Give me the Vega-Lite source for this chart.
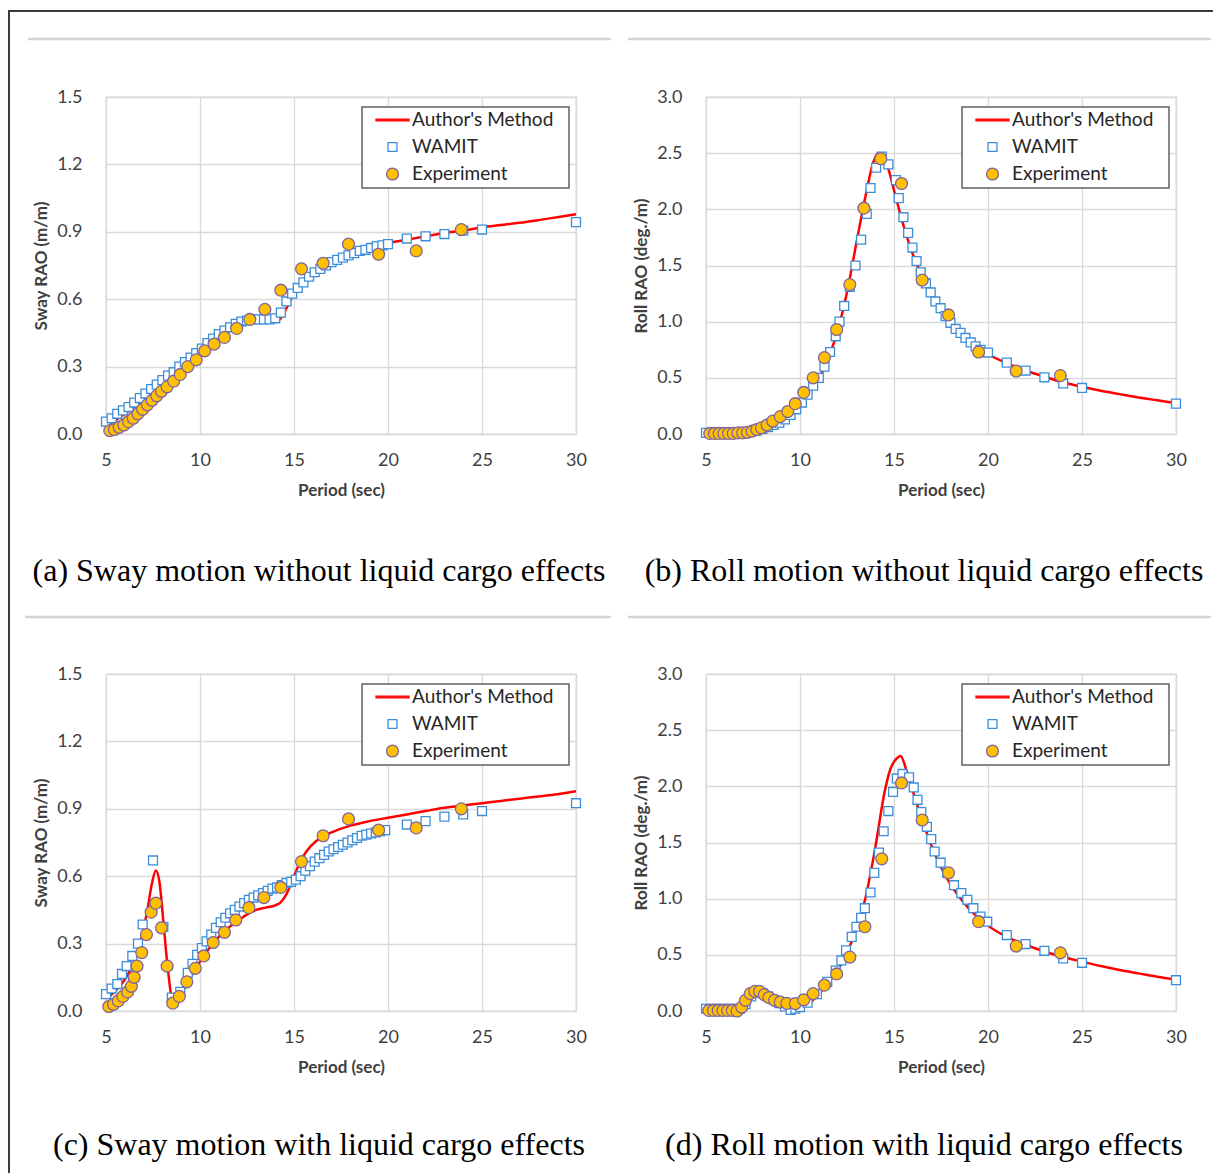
{
  "$schema": "https://vega.github.io/schema/vega-lite/v6.json",
  "background": "white",
  "autosize": {"type": "pad"},
  "padding": {"left": 7, "top": 8, "right": 0, "bottom": 0},
  "config": {
    "view": {"stroke": "#d9d9d9", "strokeWidth": 1.3},
    "axis": {
      "domain": false, "ticks": false, "grid": true, "labelFlush": false,
      "gridColor": "#d9d9d9", "gridWidth": 1.3,
      "labelFont": "Lato", "labelFontSize": 18, "labelColor": "#404040",
      "titleFont": "Lato", "titleFontSize": 17, "titleFontWeight": "bold", "titleColor": "#404040"
    },
    "axisX": {"labelPadding": 17, "titlePadding": 13},
    "axisY": {"labelPadding": 24, "titlePadding": 6},
    "legend": {
      "orient": "none", "legendX": 256, "legendY": 10,
      "titleOrient": "right", "titlePadding": 12, "titleFont": "Lato", "titleFontSize": 19,
      "strokeColor": "#606060", "strokeWidth": 1.5, "fillColor": "white", "padding": 4,
      "labelFont": "Lato", "labelFontSize": 19, "labelColor": "#262626",
      "symbolSize": 1089, "symbolStrokeWidth": 1.3, "clipHeight": 18,
      "rowPadding": 8, "symbolOffset": 9, "labelOffset": 2
    },
    "title": {"orient": "bottom", "anchor": "middle", "frame": "group", "font": "Liberation Serif", "fontSize": 32, "fontWeight": "normal", "color": "#000000"}
  },
  "datasets": {
    "a": [
      {"series": "Author's Method", "T": 5.1, "v": 0.04}, {"series": "Author's Method", "T": 5.5, "v": 0.06}, {"series": "Author's Method", "T": 6.0, "v": 0.09}, {"series": "Author's Method", "T": 6.5, "v": 0.12}, {"series": "Author's Method", "T": 7.0, "v": 0.155}, {"series": "Author's Method", "T": 7.5, "v": 0.19}, {"series": "Author's Method", "T": 8.0, "v": 0.225}, {"series": "Author's Method", "T": 8.5, "v": 0.26}, {"series": "Author's Method", "T": 9.0, "v": 0.295}, {"series": "Author's Method", "T": 9.5, "v": 0.33}, {"series": "Author's Method", "T": 10.0, "v": 0.365}, {"series": "Author's Method", "T": 10.5, "v": 0.4}, {"series": "Author's Method", "T": 11.0, "v": 0.435}, {"series": "Author's Method", "T": 11.5, "v": 0.46}, {"series": "Author's Method", "T": 12.0, "v": 0.48}, {"series": "Author's Method", "T": 12.5, "v": 0.495}, {"series": "Author's Method", "T": 13.0, "v": 0.5}, {"series": "Author's Method", "T": 13.5, "v": 0.5}, {"series": "Author's Method", "T": 14.0, "v": 0.5}, {"series": "Author's Method", "T": 14.3, "v": 0.515}, {"series": "Author's Method", "T": 14.6, "v": 0.56}, {"series": "Author's Method", "T": 15.0, "v": 0.625}, {"series": "Author's Method", "T": 15.5, "v": 0.675}, {"series": "Author's Method", "T": 16.0, "v": 0.715}, {"series": "Author's Method", "T": 16.5, "v": 0.745}, {"series": "Author's Method", "T": 17.0, "v": 0.765}, {"series": "Author's Method", "T": 17.5, "v": 0.785}, {"series": "Author's Method", "T": 18.0, "v": 0.8}, {"series": "Author's Method", "T": 18.5, "v": 0.815}, {"series": "Author's Method", "T": 19.0, "v": 0.83}, {"series": "Author's Method", "T": 19.5, "v": 0.84}, {"series": "Author's Method", "T": 20.0, "v": 0.85}, {"series": "Author's Method", "T": 21.0, "v": 0.865}, {"series": "Author's Method", "T": 22.0, "v": 0.88}, {"series": "Author's Method", "T": 23.0, "v": 0.895}, {"series": "Author's Method", "T": 24.0, "v": 0.905}, {"series": "Author's Method", "T": 25.0, "v": 0.92}, {"series": "Author's Method", "T": 26.0, "v": 0.93}, {"series": "Author's Method", "T": 27.0, "v": 0.94}, {"series": "Author's Method", "T": 28.0, "v": 0.952}, {"series": "Author's Method", "T": 29.0, "v": 0.965}, {"series": "Author's Method", "T": 30.0, "v": 0.978},
      {"series": "WAMIT", "T": 5.0, "v": 0.055}, {"series": "WAMIT", "T": 5.3, "v": 0.07}, {"series": "WAMIT", "T": 5.6, "v": 0.09}, {"series": "WAMIT", "T": 5.9, "v": 0.105}, {"series": "WAMIT", "T": 6.2, "v": 0.12}, {"series": "WAMIT", "T": 6.5, "v": 0.14}, {"series": "WAMIT", "T": 6.8, "v": 0.16}, {"series": "WAMIT", "T": 7.1, "v": 0.18}, {"series": "WAMIT", "T": 7.4, "v": 0.2}, {"series": "WAMIT", "T": 7.7, "v": 0.22}, {"series": "WAMIT", "T": 8.0, "v": 0.24}, {"series": "WAMIT", "T": 8.3, "v": 0.26}, {"series": "WAMIT", "T": 8.6, "v": 0.275}, {"series": "WAMIT", "T": 8.9, "v": 0.3}, {"series": "WAMIT", "T": 9.2, "v": 0.32}, {"series": "WAMIT", "T": 9.5, "v": 0.34}, {"series": "WAMIT", "T": 9.8, "v": 0.36}, {"series": "WAMIT", "T": 10.1, "v": 0.38}, {"series": "WAMIT", "T": 10.4, "v": 0.405}, {"series": "WAMIT", "T": 10.7, "v": 0.425}, {"series": "WAMIT", "T": 11.0, "v": 0.445}, {"series": "WAMIT", "T": 11.3, "v": 0.46}, {"series": "WAMIT", "T": 11.6, "v": 0.475}, {"series": "WAMIT", "T": 11.9, "v": 0.49}, {"series": "WAMIT", "T": 12.2, "v": 0.5}, {"series": "WAMIT", "T": 12.5, "v": 0.505}, {"series": "WAMIT", "T": 12.8, "v": 0.51}, {"series": "WAMIT", "T": 13.1, "v": 0.51}, {"series": "WAMIT", "T": 13.4, "v": 0.51}, {"series": "WAMIT", "T": 13.7, "v": 0.51}, {"series": "WAMIT", "T": 14.0, "v": 0.515}, {"series": "WAMIT", "T": 14.3, "v": 0.54}, {"series": "WAMIT", "T": 14.6, "v": 0.59}, {"series": "WAMIT", "T": 14.9, "v": 0.625}, {"series": "WAMIT", "T": 15.2, "v": 0.65}, {"series": "WAMIT", "T": 15.5, "v": 0.675}, {"series": "WAMIT", "T": 15.8, "v": 0.7}, {"series": "WAMIT", "T": 16.1, "v": 0.72}, {"series": "WAMIT", "T": 16.4, "v": 0.735}, {"series": "WAMIT", "T": 16.7, "v": 0.75}, {"series": "WAMIT", "T": 17.0, "v": 0.765}, {"series": "WAMIT", "T": 17.3, "v": 0.775}, {"series": "WAMIT", "T": 17.6, "v": 0.785}, {"series": "WAMIT", "T": 17.9, "v": 0.795}, {"series": "WAMIT", "T": 18.2, "v": 0.805}, {"series": "WAMIT", "T": 18.5, "v": 0.815}, {"series": "WAMIT", "T": 18.8, "v": 0.82}, {"series": "WAMIT", "T": 19.1, "v": 0.828}, {"series": "WAMIT", "T": 19.4, "v": 0.835}, {"series": "WAMIT", "T": 19.7, "v": 0.84}, {"series": "WAMIT", "T": 20.0, "v": 0.845}, {"series": "WAMIT", "T": 21.0, "v": 0.87}, {"series": "WAMIT", "T": 22.0, "v": 0.88}, {"series": "WAMIT", "T": 23.0, "v": 0.89}, {"series": "WAMIT", "T": 24.0, "v": 0.905}, {"series": "WAMIT", "T": 25.0, "v": 0.91}, {"series": "WAMIT", "T": 30.0, "v": 0.943},
      {"series": "Experiment", "T": 5.2, "v": 0.015}, {"series": "Experiment", "T": 5.45, "v": 0.02}, {"series": "Experiment", "T": 5.7, "v": 0.03}, {"series": "Experiment", "T": 5.95, "v": 0.04}, {"series": "Experiment", "T": 6.2, "v": 0.055}, {"series": "Experiment", "T": 6.45, "v": 0.07}, {"series": "Experiment", "T": 6.7, "v": 0.09}, {"series": "Experiment", "T": 6.95, "v": 0.11}, {"series": "Experiment", "T": 7.2, "v": 0.13}, {"series": "Experiment", "T": 7.45, "v": 0.15}, {"series": "Experiment", "T": 7.7, "v": 0.17}, {"series": "Experiment", "T": 7.95, "v": 0.19}, {"series": "Experiment", "T": 8.25, "v": 0.21}, {"series": "Experiment", "T": 8.6, "v": 0.235}, {"series": "Experiment", "T": 8.95, "v": 0.265}, {"series": "Experiment", "T": 9.35, "v": 0.3}, {"series": "Experiment", "T": 9.8, "v": 0.33}, {"series": "Experiment", "T": 10.25, "v": 0.37}, {"series": "Experiment", "T": 10.75, "v": 0.4}, {"series": "Experiment", "T": 11.3, "v": 0.43}, {"series": "Experiment", "T": 11.95, "v": 0.47}, {"series": "Experiment", "T": 12.65, "v": 0.51}, {"series": "Experiment", "T": 13.45, "v": 0.555}, {"series": "Experiment", "T": 14.3, "v": 0.64}, {"series": "Experiment", "T": 15.4, "v": 0.735}, {"series": "Experiment", "T": 16.55, "v": 0.76}, {"series": "Experiment", "T": 17.9, "v": 0.845}, {"series": "Experiment", "T": 19.5, "v": 0.8}, {"series": "Experiment", "T": 21.5, "v": 0.815}, {"series": "Experiment", "T": 23.9, "v": 0.91}
    ],
    "b": [
      {"series": "Author's Method", "T": 5.0, "v": 0.005}, {"series": "Author's Method", "T": 6.0, "v": 0.005}, {"series": "Author's Method", "T": 7.0, "v": 0.01}, {"series": "Author's Method", "T": 7.5, "v": 0.02}, {"series": "Author's Method", "T": 8.0, "v": 0.04}, {"series": "Author's Method", "T": 8.5, "v": 0.08}, {"series": "Author's Method", "T": 9.0, "v": 0.13}, {"series": "Author's Method", "T": 9.5, "v": 0.19}, {"series": "Author's Method", "T": 10.0, "v": 0.26}, {"series": "Author's Method", "T": 10.5, "v": 0.36}, {"series": "Author's Method", "T": 11.0, "v": 0.49}, {"series": "Author's Method", "T": 11.5, "v": 0.67}, {"series": "Author's Method", "T": 12.0, "v": 0.92}, {"series": "Author's Method", "T": 12.5, "v": 1.26}, {"series": "Author's Method", "T": 13.0, "v": 1.7}, {"series": "Author's Method", "T": 13.5, "v": 2.13}, {"series": "Author's Method", "T": 13.9, "v": 2.42}, {"series": "Author's Method", "T": 14.15, "v": 2.5}, {"series": "Author's Method", "T": 14.4, "v": 2.48}, {"series": "Author's Method", "T": 14.7, "v": 2.36}, {"series": "Author's Method", "T": 15.0, "v": 2.17}, {"series": "Author's Method", "T": 15.5, "v": 1.86}, {"series": "Author's Method", "T": 16.0, "v": 1.6}, {"series": "Author's Method", "T": 16.5, "v": 1.41}, {"series": "Author's Method", "T": 17.0, "v": 1.25}, {"series": "Author's Method", "T": 17.5, "v": 1.11}, {"series": "Author's Method", "T": 18.0, "v": 0.99}, {"series": "Author's Method", "T": 18.5, "v": 0.9}, {"series": "Author's Method", "T": 19.0, "v": 0.82}, {"series": "Author's Method", "T": 19.5, "v": 0.76}, {"series": "Author's Method", "T": 20.0, "v": 0.71}, {"series": "Author's Method", "T": 21.0, "v": 0.63}, {"series": "Author's Method", "T": 22.0, "v": 0.565}, {"series": "Author's Method", "T": 23.0, "v": 0.51}, {"series": "Author's Method", "T": 24.0, "v": 0.46}, {"series": "Author's Method", "T": 25.0, "v": 0.42}, {"series": "Author's Method", "T": 26.0, "v": 0.385}, {"series": "Author's Method", "T": 27.0, "v": 0.355}, {"series": "Author's Method", "T": 28.0, "v": 0.325}, {"series": "Author's Method", "T": 29.0, "v": 0.3}, {"series": "Author's Method", "T": 30.0, "v": 0.275},
      {"series": "WAMIT", "T": 5.0, "v": 0.01}, {"series": "WAMIT", "T": 5.3, "v": 0.01}, {"series": "WAMIT", "T": 5.6, "v": 0.01}, {"series": "WAMIT", "T": 5.9, "v": 0.01}, {"series": "WAMIT", "T": 6.2, "v": 0.01}, {"series": "WAMIT", "T": 6.5, "v": 0.01}, {"series": "WAMIT", "T": 6.8, "v": 0.01}, {"series": "WAMIT", "T": 7.1, "v": 0.015}, {"series": "WAMIT", "T": 7.4, "v": 0.02}, {"series": "WAMIT", "T": 7.7, "v": 0.03}, {"series": "WAMIT", "T": 8.0, "v": 0.045}, {"series": "WAMIT", "T": 8.3, "v": 0.06}, {"series": "WAMIT", "T": 8.6, "v": 0.08}, {"series": "WAMIT", "T": 8.9, "v": 0.1}, {"series": "WAMIT", "T": 9.2, "v": 0.13}, {"series": "WAMIT", "T": 9.5, "v": 0.17}, {"series": "WAMIT", "T": 9.8, "v": 0.22}, {"series": "WAMIT", "T": 10.1, "v": 0.28}, {"series": "WAMIT", "T": 10.4, "v": 0.35}, {"series": "WAMIT", "T": 10.7, "v": 0.43}, {"series": "WAMIT", "T": 11.0, "v": 0.5}, {"series": "WAMIT", "T": 11.3, "v": 0.6}, {"series": "WAMIT", "T": 11.6, "v": 0.73}, {"series": "WAMIT", "T": 11.9, "v": 0.87}, {"series": "WAMIT", "T": 12.1, "v": 1.0}, {"series": "WAMIT", "T": 12.35, "v": 1.14}, {"series": "WAMIT", "T": 12.65, "v": 1.31}, {"series": "WAMIT", "T": 12.95, "v": 1.5}, {"series": "WAMIT", "T": 13.25, "v": 1.73}, {"series": "WAMIT", "T": 13.55, "v": 1.96}, {"series": "WAMIT", "T": 13.75, "v": 2.19}, {"series": "WAMIT", "T": 14.05, "v": 2.37}, {"series": "WAMIT", "T": 14.35, "v": 2.47}, {"series": "WAMIT", "T": 14.7, "v": 2.4}, {"series": "WAMIT", "T": 15.1, "v": 2.26}, {"series": "WAMIT", "T": 15.25, "v": 2.1}, {"series": "WAMIT", "T": 15.5, "v": 1.93}, {"series": "WAMIT", "T": 15.75, "v": 1.79}, {"series": "WAMIT", "T": 15.98, "v": 1.66}, {"series": "WAMIT", "T": 16.2, "v": 1.54}, {"series": "WAMIT", "T": 16.42, "v": 1.44}, {"series": "WAMIT", "T": 16.7, "v": 1.34}, {"series": "WAMIT", "T": 16.95, "v": 1.26}, {"series": "WAMIT", "T": 17.2, "v": 1.18}, {"series": "WAMIT", "T": 17.48, "v": 1.12}, {"series": "WAMIT", "T": 17.74, "v": 1.05}, {"series": "WAMIT", "T": 18.0, "v": 0.99}, {"series": "WAMIT", "T": 18.28, "v": 0.935}, {"series": "WAMIT", "T": 18.54, "v": 0.9}, {"series": "WAMIT", "T": 18.8, "v": 0.855}, {"series": "WAMIT", "T": 19.08, "v": 0.815}, {"series": "WAMIT", "T": 19.34, "v": 0.78}, {"series": "WAMIT", "T": 19.6, "v": 0.75}, {"series": "WAMIT", "T": 20.0, "v": 0.725}, {"series": "WAMIT", "T": 21.0, "v": 0.635}, {"series": "WAMIT", "T": 22.0, "v": 0.565}, {"series": "WAMIT", "T": 23.0, "v": 0.505}, {"series": "WAMIT", "T": 24.0, "v": 0.45}, {"series": "WAMIT", "T": 25.0, "v": 0.41}, {"series": "WAMIT", "T": 30.0, "v": 0.27},
      {"series": "Experiment", "T": 5.2, "v": 0.005}, {"series": "Experiment", "T": 5.45, "v": 0.005}, {"series": "Experiment", "T": 5.7, "v": 0.005}, {"series": "Experiment", "T": 5.95, "v": 0.005}, {"series": "Experiment", "T": 6.2, "v": 0.005}, {"series": "Experiment", "T": 6.45, "v": 0.005}, {"series": "Experiment", "T": 6.7, "v": 0.01}, {"series": "Experiment", "T": 6.95, "v": 0.01}, {"series": "Experiment", "T": 7.2, "v": 0.015}, {"series": "Experiment", "T": 7.45, "v": 0.025}, {"series": "Experiment", "T": 7.7, "v": 0.04}, {"series": "Experiment", "T": 7.95, "v": 0.055}, {"series": "Experiment", "T": 8.25, "v": 0.08}, {"series": "Experiment", "T": 8.55, "v": 0.115}, {"series": "Experiment", "T": 8.95, "v": 0.155}, {"series": "Experiment", "T": 9.35, "v": 0.2}, {"series": "Experiment", "T": 9.75, "v": 0.27}, {"series": "Experiment", "T": 10.2, "v": 0.37}, {"series": "Experiment", "T": 10.7, "v": 0.5}, {"series": "Experiment", "T": 11.3, "v": 0.68}, {"series": "Experiment", "T": 11.95, "v": 0.93}, {"series": "Experiment", "T": 12.65, "v": 1.33}, {"series": "Experiment", "T": 13.4, "v": 2.01}, {"series": "Experiment", "T": 14.3, "v": 2.45}, {"series": "Experiment", "T": 15.4, "v": 2.23}, {"series": "Experiment", "T": 16.5, "v": 1.37}, {"series": "Experiment", "T": 17.9, "v": 1.06}, {"series": "Experiment", "T": 19.5, "v": 0.73}, {"series": "Experiment", "T": 21.5, "v": 0.56}, {"series": "Experiment", "T": 23.85, "v": 0.52}
    ],
    "c": [
      {"series": "Author's Method", "T": 5.1, "v": 0.06}, {"series": "Author's Method", "T": 5.5, "v": 0.09}, {"series": "Author's Method", "T": 6.0, "v": 0.14}, {"series": "Author's Method", "T": 6.5, "v": 0.22}, {"series": "Author's Method", "T": 6.9, "v": 0.33}, {"series": "Author's Method", "T": 7.2, "v": 0.45}, {"series": "Author's Method", "T": 7.45, "v": 0.57}, {"series": "Author's Method", "T": 7.65, "v": 0.625}, {"series": "Author's Method", "T": 7.85, "v": 0.57}, {"series": "Author's Method", "T": 8.05, "v": 0.4}, {"series": "Author's Method", "T": 8.25, "v": 0.22}, {"series": "Author's Method", "T": 8.45, "v": 0.08}, {"series": "Author's Method", "T": 8.6, "v": 0.03}, {"series": "Author's Method", "T": 8.8, "v": 0.04}, {"series": "Author's Method", "T": 9.1, "v": 0.09}, {"series": "Author's Method", "T": 9.5, "v": 0.15}, {"series": "Author's Method", "T": 10.0, "v": 0.22}, {"series": "Author's Method", "T": 10.5, "v": 0.28}, {"series": "Author's Method", "T": 11.0, "v": 0.33}, {"series": "Author's Method", "T": 11.5, "v": 0.37}, {"series": "Author's Method", "T": 12.0, "v": 0.4}, {"series": "Author's Method", "T": 12.5, "v": 0.43}, {"series": "Author's Method", "T": 13.0, "v": 0.45}, {"series": "Author's Method", "T": 13.5, "v": 0.46}, {"series": "Author's Method", "T": 14.0, "v": 0.47}, {"series": "Author's Method", "T": 14.3, "v": 0.485}, {"series": "Author's Method", "T": 14.6, "v": 0.52}, {"series": "Author's Method", "T": 14.9, "v": 0.58}, {"series": "Author's Method", "T": 15.2, "v": 0.64}, {"series": "Author's Method", "T": 15.5, "v": 0.69}, {"series": "Author's Method", "T": 15.9, "v": 0.735}, {"series": "Author's Method", "T": 16.5, "v": 0.775}, {"series": "Author's Method", "T": 17.0, "v": 0.795}, {"series": "Author's Method", "T": 18.0, "v": 0.825}, {"series": "Author's Method", "T": 19.0, "v": 0.845}, {"series": "Author's Method", "T": 20.0, "v": 0.86}, {"series": "Author's Method", "T": 21.0, "v": 0.875}, {"series": "Author's Method", "T": 22.0, "v": 0.89}, {"series": "Author's Method", "T": 23.0, "v": 0.905}, {"series": "Author's Method", "T": 24.0, "v": 0.915}, {"series": "Author's Method", "T": 25.0, "v": 0.925}, {"series": "Author's Method", "T": 26.0, "v": 0.935}, {"series": "Author's Method", "T": 27.0, "v": 0.945}, {"series": "Author's Method", "T": 28.0, "v": 0.955}, {"series": "Author's Method", "T": 29.0, "v": 0.965}, {"series": "Author's Method", "T": 30.0, "v": 0.978},
      {"series": "WAMIT", "T": 5.0, "v": 0.075}, {"series": "WAMIT", "T": 5.3, "v": 0.1}, {"series": "WAMIT", "T": 5.6, "v": 0.12}, {"series": "WAMIT", "T": 5.85, "v": 0.165}, {"series": "WAMIT", "T": 6.1, "v": 0.2}, {"series": "WAMIT", "T": 6.4, "v": 0.245}, {"series": "WAMIT", "T": 6.7, "v": 0.3}, {"series": "WAMIT", "T": 6.95, "v": 0.385}, {"series": "WAMIT", "T": 7.5, "v": 0.67}, {"series": "WAMIT", "T": 8.05, "v": 0.375}, {"series": "WAMIT", "T": 8.5, "v": 0.06}, {"series": "WAMIT", "T": 8.95, "v": 0.085}, {"series": "WAMIT", "T": 9.35, "v": 0.17}, {"series": "WAMIT", "T": 9.6, "v": 0.21}, {"series": "WAMIT", "T": 9.85, "v": 0.25}, {"series": "WAMIT", "T": 10.1, "v": 0.28}, {"series": "WAMIT", "T": 10.35, "v": 0.31}, {"series": "WAMIT", "T": 10.6, "v": 0.34}, {"series": "WAMIT", "T": 10.85, "v": 0.37}, {"series": "WAMIT", "T": 11.1, "v": 0.395}, {"series": "WAMIT", "T": 11.35, "v": 0.415}, {"series": "WAMIT", "T": 11.6, "v": 0.435}, {"series": "WAMIT", "T": 11.85, "v": 0.45}, {"series": "WAMIT", "T": 12.1, "v": 0.465}, {"series": "WAMIT", "T": 12.35, "v": 0.48}, {"series": "WAMIT", "T": 12.6, "v": 0.495}, {"series": "WAMIT", "T": 12.85, "v": 0.505}, {"series": "WAMIT", "T": 13.1, "v": 0.515}, {"series": "WAMIT", "T": 13.35, "v": 0.525}, {"series": "WAMIT", "T": 13.6, "v": 0.535}, {"series": "WAMIT", "T": 13.85, "v": 0.545}, {"series": "WAMIT", "T": 14.1, "v": 0.55}, {"series": "WAMIT", "T": 14.35, "v": 0.56}, {"series": "WAMIT", "T": 14.6, "v": 0.57}, {"series": "WAMIT", "T": 14.85, "v": 0.575}, {"series": "WAMIT", "T": 15.1, "v": 0.585}, {"series": "WAMIT", "T": 15.35, "v": 0.6}, {"series": "WAMIT", "T": 15.6, "v": 0.625}, {"series": "WAMIT", "T": 15.85, "v": 0.645}, {"series": "WAMIT", "T": 16.1, "v": 0.665}, {"series": "WAMIT", "T": 16.35, "v": 0.68}, {"series": "WAMIT", "T": 16.6, "v": 0.695}, {"series": "WAMIT", "T": 16.85, "v": 0.71}, {"series": "WAMIT", "T": 17.1, "v": 0.72}, {"series": "WAMIT", "T": 17.35, "v": 0.73}, {"series": "WAMIT", "T": 17.6, "v": 0.74}, {"series": "WAMIT", "T": 17.85, "v": 0.75}, {"series": "WAMIT", "T": 18.1, "v": 0.76}, {"series": "WAMIT", "T": 18.35, "v": 0.77}, {"series": "WAMIT", "T": 18.6, "v": 0.78}, {"series": "WAMIT", "T": 18.85, "v": 0.785}, {"series": "WAMIT", "T": 19.1, "v": 0.79}, {"series": "WAMIT", "T": 19.35, "v": 0.795}, {"series": "WAMIT", "T": 19.6, "v": 0.8}, {"series": "WAMIT", "T": 19.85, "v": 0.805}, {"series": "WAMIT", "T": 21.0, "v": 0.83}, {"series": "WAMIT", "T": 22.0, "v": 0.845}, {"series": "WAMIT", "T": 23.0, "v": 0.865}, {"series": "WAMIT", "T": 24.0, "v": 0.875}, {"series": "WAMIT", "T": 25.0, "v": 0.89}, {"series": "WAMIT", "T": 30.0, "v": 0.925},
      {"series": "Experiment", "T": 5.15, "v": 0.02}, {"series": "Experiment", "T": 5.4, "v": 0.03}, {"series": "Experiment", "T": 5.65, "v": 0.045}, {"series": "Experiment", "T": 5.9, "v": 0.065}, {"series": "Experiment", "T": 6.15, "v": 0.085}, {"series": "Experiment", "T": 6.35, "v": 0.11}, {"series": "Experiment", "T": 6.5, "v": 0.15}, {"series": "Experiment", "T": 6.65, "v": 0.2}, {"series": "Experiment", "T": 6.9, "v": 0.26}, {"series": "Experiment", "T": 7.15, "v": 0.34}, {"series": "Experiment", "T": 7.4, "v": 0.44}, {"series": "Experiment", "T": 7.65, "v": 0.48}, {"series": "Experiment", "T": 7.95, "v": 0.37}, {"series": "Experiment", "T": 8.25, "v": 0.2}, {"series": "Experiment", "T": 8.55, "v": 0.035}, {"series": "Experiment", "T": 8.9, "v": 0.065}, {"series": "Experiment", "T": 9.3, "v": 0.13}, {"series": "Experiment", "T": 9.75, "v": 0.19}, {"series": "Experiment", "T": 10.2, "v": 0.245}, {"series": "Experiment", "T": 10.7, "v": 0.305}, {"series": "Experiment", "T": 11.3, "v": 0.35}, {"series": "Experiment", "T": 11.9, "v": 0.405}, {"series": "Experiment", "T": 12.6, "v": 0.46}, {"series": "Experiment", "T": 13.4, "v": 0.505}, {"series": "Experiment", "T": 14.3, "v": 0.55}, {"series": "Experiment", "T": 15.4, "v": 0.665}, {"series": "Experiment", "T": 16.55, "v": 0.78}, {"series": "Experiment", "T": 17.9, "v": 0.855}, {"series": "Experiment", "T": 19.5, "v": 0.805}, {"series": "Experiment", "T": 21.5, "v": 0.815}, {"series": "Experiment", "T": 23.9, "v": 0.9}
    ],
    "d": [
      {"series": "Author's Method", "T": 5.0, "v": 0.01}, {"series": "Author's Method", "T": 6.0, "v": 0.01}, {"series": "Author's Method", "T": 6.8, "v": 0.01}, {"series": "Author's Method", "T": 7.0, "v": 0.04}, {"series": "Author's Method", "T": 7.3, "v": 0.11}, {"series": "Author's Method", "T": 7.6, "v": 0.16}, {"series": "Author's Method", "T": 7.9, "v": 0.175}, {"series": "Author's Method", "T": 8.2, "v": 0.155}, {"series": "Author's Method", "T": 8.6, "v": 0.11}, {"series": "Author's Method", "T": 9.0, "v": 0.07}, {"series": "Author's Method", "T": 9.4, "v": 0.03}, {"series": "Author's Method", "T": 9.7, "v": 0.01}, {"series": "Author's Method", "T": 10.0, "v": 0.02}, {"series": "Author's Method", "T": 10.5, "v": 0.07}, {"series": "Author's Method", "T": 11.0, "v": 0.15}, {"series": "Author's Method", "T": 11.5, "v": 0.25}, {"series": "Author's Method", "T": 12.0, "v": 0.36}, {"series": "Author's Method", "T": 12.5, "v": 0.52}, {"series": "Author's Method", "T": 13.0, "v": 0.73}, {"series": "Author's Method", "T": 13.5, "v": 1.02}, {"series": "Author's Method", "T": 14.0, "v": 1.45}, {"series": "Author's Method", "T": 14.5, "v": 1.95}, {"series": "Author's Method", "T": 14.8, "v": 2.15}, {"series": "Author's Method", "T": 15.1, "v": 2.24}, {"series": "Author's Method", "T": 15.35, "v": 2.27}, {"series": "Author's Method", "T": 15.7, "v": 2.12}, {"series": "Author's Method", "T": 16.0, "v": 1.96}, {"series": "Author's Method", "T": 16.5, "v": 1.7}, {"series": "Author's Method", "T": 17.0, "v": 1.47}, {"series": "Author's Method", "T": 17.5, "v": 1.28}, {"series": "Author's Method", "T": 18.0, "v": 1.13}, {"series": "Author's Method", "T": 18.5, "v": 1.01}, {"series": "Author's Method", "T": 19.0, "v": 0.91}, {"series": "Author's Method", "T": 19.5, "v": 0.83}, {"series": "Author's Method", "T": 20.0, "v": 0.76}, {"series": "Author's Method", "T": 21.0, "v": 0.66}, {"series": "Author's Method", "T": 22.0, "v": 0.59}, {"series": "Author's Method", "T": 23.0, "v": 0.53}, {"series": "Author's Method", "T": 24.0, "v": 0.48}, {"series": "Author's Method", "T": 25.0, "v": 0.44}, {"series": "Author's Method", "T": 26.0, "v": 0.4}, {"series": "Author's Method", "T": 27.0, "v": 0.365}, {"series": "Author's Method", "T": 28.0, "v": 0.335}, {"series": "Author's Method", "T": 29.0, "v": 0.305}, {"series": "Author's Method", "T": 30.0, "v": 0.28},
      {"series": "WAMIT", "T": 5.0, "v": 0.02}, {"series": "WAMIT", "T": 5.3, "v": 0.02}, {"series": "WAMIT", "T": 5.6, "v": 0.02}, {"series": "WAMIT", "T": 5.9, "v": 0.02}, {"series": "WAMIT", "T": 6.2, "v": 0.02}, {"series": "WAMIT", "T": 6.5, "v": 0.02}, {"series": "WAMIT", "T": 6.8, "v": 0.02}, {"series": "WAMIT", "T": 7.1, "v": 0.06}, {"series": "WAMIT", "T": 7.4, "v": 0.13}, {"series": "WAMIT", "T": 7.7, "v": 0.17}, {"series": "WAMIT", "T": 8.0, "v": 0.16}, {"series": "WAMIT", "T": 8.3, "v": 0.13}, {"series": "WAMIT", "T": 8.6, "v": 0.1}, {"series": "WAMIT", "T": 8.9, "v": 0.07}, {"series": "WAMIT", "T": 9.2, "v": 0.04}, {"series": "WAMIT", "T": 9.5, "v": 0.01}, {"series": "WAMIT", "T": 9.75, "v": 0.02}, {"series": "WAMIT", "T": 10.0, "v": 0.035}, {"series": "WAMIT", "T": 10.4, "v": 0.075}, {"series": "WAMIT", "T": 10.9, "v": 0.15}, {"series": "WAMIT", "T": 11.45, "v": 0.26}, {"series": "WAMIT", "T": 11.9, "v": 0.36}, {"series": "WAMIT", "T": 12.2, "v": 0.45}, {"series": "WAMIT", "T": 12.45, "v": 0.54}, {"series": "WAMIT", "T": 12.75, "v": 0.66}, {"series": "WAMIT", "T": 13.0, "v": 0.75}, {"series": "WAMIT", "T": 13.25, "v": 0.83}, {"series": "WAMIT", "T": 13.45, "v": 0.915}, {"series": "WAMIT", "T": 13.75, "v": 1.055}, {"series": "WAMIT", "T": 13.95, "v": 1.23}, {"series": "WAMIT", "T": 14.2, "v": 1.41}, {"series": "WAMIT", "T": 14.45, "v": 1.6}, {"series": "WAMIT", "T": 14.7, "v": 1.78}, {"series": "WAMIT", "T": 14.95, "v": 1.95}, {"series": "WAMIT", "T": 15.15, "v": 2.07}, {"series": "WAMIT", "T": 15.45, "v": 2.11}, {"series": "WAMIT", "T": 15.8, "v": 2.08}, {"series": "WAMIT", "T": 16.05, "v": 1.99}, {"series": "WAMIT", "T": 16.25, "v": 1.88}, {"series": "WAMIT", "T": 16.45, "v": 1.77}, {"series": "WAMIT", "T": 16.75, "v": 1.64}, {"series": "WAMIT", "T": 16.98, "v": 1.53}, {"series": "WAMIT", "T": 17.16, "v": 1.42}, {"series": "WAMIT", "T": 17.48, "v": 1.32}, {"series": "WAMIT", "T": 17.83, "v": 1.23}, {"series": "WAMIT", "T": 18.19, "v": 1.12}, {"series": "WAMIT", "T": 18.58, "v": 1.05}, {"series": "WAMIT", "T": 18.9, "v": 0.99}, {"series": "WAMIT", "T": 19.22, "v": 0.915}, {"series": "WAMIT", "T": 19.6, "v": 0.84}, {"series": "WAMIT", "T": 19.96, "v": 0.795}, {"series": "WAMIT", "T": 21.0, "v": 0.676}, {"series": "WAMIT", "T": 22.0, "v": 0.596}, {"series": "WAMIT", "T": 23.0, "v": 0.536}, {"series": "WAMIT", "T": 24.0, "v": 0.468}, {"series": "WAMIT", "T": 25.0, "v": 0.429}, {"series": "WAMIT", "T": 30.0, "v": 0.274},
      {"series": "Experiment", "T": 5.15, "v": 0.005}, {"series": "Experiment", "T": 5.4, "v": 0.005}, {"series": "Experiment", "T": 5.65, "v": 0.005}, {"series": "Experiment", "T": 5.9, "v": 0.005}, {"series": "Experiment", "T": 6.15, "v": 0.005}, {"series": "Experiment", "T": 6.4, "v": 0.005}, {"series": "Experiment", "T": 6.65, "v": 0.0}, {"series": "Experiment", "T": 6.9, "v": 0.035}, {"series": "Experiment", "T": 7.1, "v": 0.095}, {"series": "Experiment", "T": 7.35, "v": 0.155}, {"series": "Experiment", "T": 7.6, "v": 0.175}, {"series": "Experiment", "T": 7.85, "v": 0.175}, {"series": "Experiment", "T": 8.1, "v": 0.145}, {"series": "Experiment", "T": 8.35, "v": 0.12}, {"series": "Experiment", "T": 8.65, "v": 0.095}, {"series": "Experiment", "T": 8.95, "v": 0.08}, {"series": "Experiment", "T": 9.3, "v": 0.068}, {"series": "Experiment", "T": 9.75, "v": 0.066}, {"series": "Experiment", "T": 10.2, "v": 0.1}, {"series": "Experiment", "T": 10.7, "v": 0.155}, {"series": "Experiment", "T": 11.3, "v": 0.23}, {"series": "Experiment", "T": 11.95, "v": 0.33}, {"series": "Experiment", "T": 12.65, "v": 0.48}, {"series": "Experiment", "T": 13.45, "v": 0.75}, {"series": "Experiment", "T": 14.35, "v": 1.355}, {"series": "Experiment", "T": 15.4, "v": 2.03}, {"series": "Experiment", "T": 16.5, "v": 1.7}, {"series": "Experiment", "T": 17.9, "v": 1.23}, {"series": "Experiment", "T": 19.5, "v": 0.795}, {"series": "Experiment", "T": 21.5, "v": 0.578}, {"series": "Experiment", "T": 23.85, "v": 0.518}
    ]
  },
  "columns": 2,
  "spacing": {"row": 240, "column": 130},
  "bounds": "flush",
  "resolve": {
    "scale": {"x": "independent", "y": "independent", "fill": "independent", "stroke": "independent", "shape": "independent"},
    "legend": {"fill": "independent", "stroke": "independent", "shape": "independent"}
  },
  "concat": [
    {
      "width": 470, "height": 337,
      "data": {"name": "a"},
      "title": {"text": "(a) Sway motion without liquid cargo effects", "dx": -22, "offset": 58},
      "layer": [
        {
          "data": {"values": [{}]},
          "mark": {"type": "rule", "color": "#3a3a3a", "strokeWidth": 2, "clip": false},
          "encoding": {"x": {"datum": -0.16, "type": "quantitative"}, "x2": {"datum": 63.88}, "y": {"datum": 1.8828, "type": "quantitative"}}
        },
        {
          "data": {"values": [{}]},
          "mark": {"type": "rule", "color": "#d4d4d4", "strokeWidth": 2.5, "clip": false},
          "encoding": {"x": {"datum": 0.85, "type": "quantitative"}, "x2": {"datum": 31.86}, "y": {"datum": 1.758, "type": "quantitative"}}
        },
        {
          "transform": [{"filter": {"field": "series", "equal": "Author's Method"}}],
          "mark": {"type": "line", "color": "#ff0000", "strokeWidth": 2.5, "interpolate": "monotone", "clip": true},
          "encoding": {
            "x": {"field": "T", "type": "quantitative", "scale": {"domain": [5, 30], "nice": false, "zero": false}, "axis": {"values": [5, 10, 15, 20, 25, 30], "title": "Period (sec)"}},
            "y": {"field": "v", "type": "quantitative", "scale": {"domain": [0, 1.5], "nice": false}, "axis": {"values": [0, 0.3, 0.6, 0.9, 1.2, 1.5], "format": ".1f", "title": "Sway RAO (m/m)"}}
          }
        },
        {
          "transform": [{"filter": {"not": {"field": "series", "equal": "Author's Method"}}}],
          "mark": {"type": "point", "filled": true, "size": 1089, "strokeWidth": 1.3, "opacity": 1},
          "encoding": {
            "x": {"field": "T", "type": "quantitative"},
            "y": {"field": "v", "type": "quantitative"},
            "fill": {"field": "series", "type": "nominal", "title": " ", "scale": {"domain": ["Author's Method", "WAMIT", "Experiment"], "range": ["#ff0000", "#ffffff", "#ffc000"]}},
            "stroke": {"field": "series", "type": "nominal", "title": " ", "scale": {"domain": ["Author's Method", "WAMIT", "Experiment"], "range": ["#ff0000", "#3c8dd8", "#8064a2"]}},
            "shape": {"field": "series", "type": "nominal", "title": " ", "scale": {"domain": ["Author's Method", "WAMIT", "Experiment"], "range": ["M-1,-0.05H1V0.05H-1Z", "M-0.27,-0.27H0.27V0.27H-0.27Z", "M0.36,0A0.36,0.36,0,1,1,-0.36,0A0.36,0.36,0,1,1,0.36,0Z"]}}
          }
        }
      ]
    },
    {
      "width": 470, "height": 337,
      "data": {"name": "b"},
      "title": {"text": "(b) Roll motion without liquid cargo effects", "dx": -17, "offset": 58},
      "layer": [
        {
          "data": {"values": [{}]},
          "mark": {"type": "rule", "color": "#d4d4d4", "strokeWidth": 2.5, "clip": false},
          "encoding": {"x": {"datum": 0.85, "type": "quantitative"}, "x2": {"datum": 31.86}, "y": {"datum": 3.516, "type": "quantitative"}}
        },
        {
          "transform": [{"filter": {"field": "series", "equal": "Author's Method"}}],
          "mark": {"type": "line", "color": "#ff0000", "strokeWidth": 2.5, "interpolate": "monotone", "clip": true},
          "encoding": {
            "x": {"field": "T", "type": "quantitative", "scale": {"domain": [5, 30], "nice": false, "zero": false}, "axis": {"values": [5, 10, 15, 20, 25, 30], "title": "Period (sec)"}},
            "y": {"field": "v", "type": "quantitative", "scale": {"domain": [0, 3], "nice": false}, "axis": {"values": [0, 0.5, 1, 1.5, 2, 2.5, 3], "format": ".1f", "title": "Roll RAO (deg./m)"}}
          }
        },
        {
          "transform": [{"filter": {"not": {"field": "series", "equal": "Author's Method"}}}],
          "mark": {"type": "point", "filled": true, "size": 1089, "strokeWidth": 1.3, "opacity": 1},
          "encoding": {
            "x": {"field": "T", "type": "quantitative"},
            "y": {"field": "v", "type": "quantitative"},
            "fill": {"field": "series", "type": "nominal", "title": " ", "scale": {"domain": ["Author's Method", "WAMIT", "Experiment"], "range": ["#ff0000", "#ffffff", "#ffc000"]}},
            "stroke": {"field": "series", "type": "nominal", "title": " ", "scale": {"domain": ["Author's Method", "WAMIT", "Experiment"], "range": ["#ff0000", "#3c8dd8", "#8064a2"]}},
            "shape": {"field": "series", "type": "nominal", "title": " ", "scale": {"domain": ["Author's Method", "WAMIT", "Experiment"], "range": ["M-1,-0.05H1V0.05H-1Z", "M-0.27,-0.27H0.27V0.27H-0.27Z", "M0.36,0A0.36,0.36,0,1,1,-0.36,0A0.36,0.36,0,1,1,0.36,0Z"]}}
          }
        }
      ]
    },
    {
      "width": 470, "height": 337,
      "data": {"name": "c"},
      "title": {"text": "(c) Sway motion with liquid cargo effects", "dx": -22, "offset": -44},
      "layer": [
        {
          "data": {"values": [{}]},
          "mark": {"type": "rule", "color": "#3a3a3a", "strokeWidth": 2, "clip": false},
          "encoding": {"x": {"datum": -0.16, "type": "quantitative"}, "y": {"datum": 4.4555, "type": "quantitative"}, "y2": {"datum": -0.7211}}
        },
        {
          "data": {"values": [{}]},
          "mark": {"type": "rule", "color": "#d4d4d4", "strokeWidth": 2.5, "clip": false},
          "encoding": {"x": {"datum": 0.7, "type": "quantitative"}, "x2": {"datum": 31.86}, "y": {"datum": 1.754, "type": "quantitative"}}
        },
        {
          "transform": [{"filter": {"field": "series", "equal": "Author's Method"}}],
          "mark": {"type": "line", "color": "#ff0000", "strokeWidth": 2.5, "interpolate": "monotone", "clip": true},
          "encoding": {
            "x": {"field": "T", "type": "quantitative", "scale": {"domain": [5, 30], "nice": false, "zero": false}, "axis": {"values": [5, 10, 15, 20, 25, 30], "title": "Period (sec)"}},
            "y": {"field": "v", "type": "quantitative", "scale": {"domain": [0, 1.5], "nice": false}, "axis": {"values": [0, 0.3, 0.6, 0.9, 1.2, 1.5], "format": ".1f", "title": "Sway RAO (m/m)"}}
          }
        },
        {
          "transform": [{"filter": {"not": {"field": "series", "equal": "Author's Method"}}}],
          "mark": {"type": "point", "filled": true, "size": 1089, "strokeWidth": 1.3, "opacity": 1},
          "encoding": {
            "x": {"field": "T", "type": "quantitative"},
            "y": {"field": "v", "type": "quantitative"},
            "fill": {"field": "series", "type": "nominal", "title": " ", "scale": {"domain": ["Author's Method", "WAMIT", "Experiment"], "range": ["#ff0000", "#ffffff", "#ffc000"]}},
            "stroke": {"field": "series", "type": "nominal", "title": " ", "scale": {"domain": ["Author's Method", "WAMIT", "Experiment"], "range": ["#ff0000", "#3c8dd8", "#8064a2"]}},
            "shape": {"field": "series", "type": "nominal", "title": " ", "scale": {"domain": ["Author's Method", "WAMIT", "Experiment"], "range": ["M-1,-0.05H1V0.05H-1Z", "M-0.27,-0.27H0.27V0.27H-0.27Z", "M0.36,0A0.36,0.36,0,1,1,-0.36,0A0.36,0.36,0,1,1,0.36,0Z"]}}
          }
        }
      ]
    },
    {
      "width": 470, "height": 337,
      "data": {"name": "d"},
      "title": {"text": "(d) Roll motion with liquid cargo effects", "dx": -17, "offset": 55},
      "layer": [
        {
          "data": {"values": [{}]},
          "mark": {"type": "rule", "color": "#d4d4d4", "strokeWidth": 2.5, "clip": false},
          "encoding": {"x": {"datum": 0.85, "type": "quantitative"}, "x2": {"datum": 31.86}, "y": {"datum": 3.507, "type": "quantitative"}}
        },
        {
          "transform": [{"filter": {"field": "series", "equal": "Author's Method"}}],
          "mark": {"type": "line", "color": "#ff0000", "strokeWidth": 2.5, "interpolate": "monotone", "clip": true},
          "encoding": {
            "x": {"field": "T", "type": "quantitative", "scale": {"domain": [5, 30], "nice": false, "zero": false}, "axis": {"values": [5, 10, 15, 20, 25, 30], "title": "Period (sec)"}},
            "y": {"field": "v", "type": "quantitative", "scale": {"domain": [0, 3], "nice": false}, "axis": {"values": [0, 0.5, 1, 1.5, 2, 2.5, 3], "format": ".1f", "title": "Roll RAO (deg./m)"}}
          }
        },
        {
          "transform": [{"filter": {"not": {"field": "series", "equal": "Author's Method"}}}],
          "mark": {"type": "point", "filled": true, "size": 1089, "strokeWidth": 1.3, "opacity": 1},
          "encoding": {
            "x": {"field": "T", "type": "quantitative"},
            "y": {"field": "v", "type": "quantitative"},
            "fill": {"field": "series", "type": "nominal", "title": " ", "scale": {"domain": ["Author's Method", "WAMIT", "Experiment"], "range": ["#ff0000", "#ffffff", "#ffc000"]}},
            "stroke": {"field": "series", "type": "nominal", "title": " ", "scale": {"domain": ["Author's Method", "WAMIT", "Experiment"], "range": ["#ff0000", "#3c8dd8", "#8064a2"]}},
            "shape": {"field": "series", "type": "nominal", "title": " ", "scale": {"domain": ["Author's Method", "WAMIT", "Experiment"], "range": ["M-1,-0.05H1V0.05H-1Z", "M-0.27,-0.27H0.27V0.27H-0.27Z", "M0.36,0A0.36,0.36,0,1,1,-0.36,0A0.36,0.36,0,1,1,0.36,0Z"]}}
          }
        }
      ]
    }
  ]
}
